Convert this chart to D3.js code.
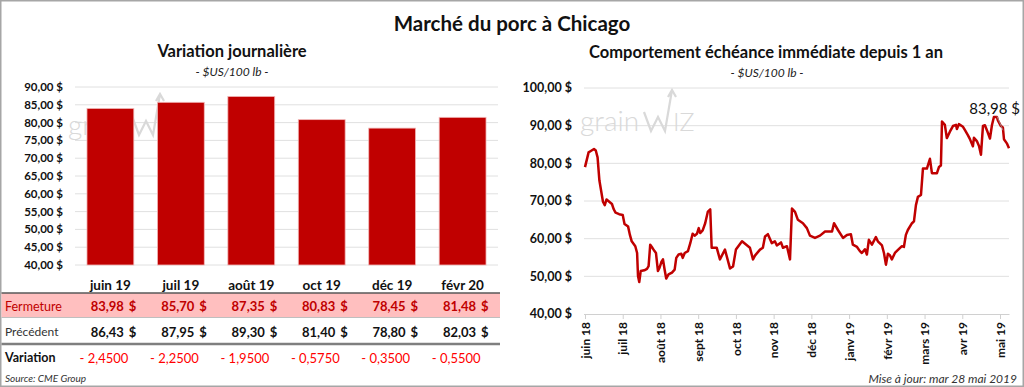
<!DOCTYPE html>
<html><head><meta charset="utf-8">
<script src="https://cdn.jsdelivr.net/npm/d3@7"></script>
<style>html,body{margin:0;padding:0;background:#fff;}svg{display:block;font-family:Lato,"Noto Sans",sans-serif;}</style>
</head><body>
<script>
// ---------- DATA ----------
const barCategories = ["juin 19","juil 19","août 19","oct 19","déc 19","févr 20"];
const closeValues   = [83.98, 85.70, 87.35, 80.83, 78.45, 81.48];
const prevValues    = [86.43, 87.95, 89.30, 81.40, 78.80, 82.03];
const changeValues  = [-2.4500, -2.2500, -1.9500, -0.5750, -0.3500, -0.5500];
const barTicks      = [40,45,50,55,60,65,70,75,80,85,90];

const lineTickLabels = ["juin 18","juil 18","août 18","sept 18","oct 18","nov 18","déc 18","janv 19","févr 19","mars 19","avr 19","mai 19"];
const lineTickDays   = [0,21,42,63,84,105,126,147,168,189,210,231];
const lineTicksY     = [40,50,60,70,80,90,100];
// trading-day index and settlement value (nearby contract)
const lineDays = [0,2,3,5,6,7,8,10,11,12,13,15,16,17,19,21,21.5,22,24,25,26,28,29,29.5,30.2,31,33,34.5,35.4,36.3,37.6,38.7,39.5,40.6,41.5,42.5,43.4,44.3,45.2,46.5,48.4,49.9,50.8,52.1,53.6,54.4,55.5,57.3,58.6,59.9,61,62.3,63.3,64.1,65.5,66.9,68.4,69.7,70.5,73.3,75.1,77.9,80.7,82.4,84,87.4,91.8,93.5,94.6,97.4,99,100.2,101.8,104,105.7,106.8,109.1,110.2,112.4,114.1,115.2,116.9,118.5,121.3,123.5,125.2,128,130.8,133.6,137.5,138.6,140.8,143.6,145.8,148,149.1,151.4,153,154.1,155.8,156.9,158,159.7,161.9,163,165.3,166.4,167.5,168.6,169.7,170.8,172.5,174.2,176.4,177.5,178.6,179.7,182,183.1,184.2,185.3,187,188.1,190.3,192,193.1,195.9,197,198.1,198.7,200.3,201.4,203.1,204.8,206.5,207,208.1,210.4,211.5,213.1,214.2,215.9,216.5,218.1,219.3,220.4,221.5,222.6,223.7,225.4,226.5,227.6,229.3,229.8,231.5,232.6,233.2,234.8,236];
const lineValues = [79.0,82.9,83.2,83.8,83.4,81.6,75.5,69.8,68.9,70.4,70.0,69.2,67.8,66.9,66.5,66.3,65.1,63.9,63.2,61.0,59.3,58.0,56.2,50.1,48.5,51.4,51.6,52.0,52.7,58.4,57.5,56.7,56.2,51.4,52.3,53.8,54.5,51.8,49.4,50.5,51.0,51.8,54.9,55.8,56.0,54.9,56.2,56.7,58.8,61.3,60.8,61.3,62.8,61.5,62.2,64.1,67.2,67.8,57.6,57.6,54.5,57.1,52.1,52.6,57.1,59.3,57.6,54.5,55.5,57.1,57.6,60.6,61.2,58.8,59.3,58.2,59.0,57.6,58.0,54.5,68.0,67.1,65.0,64.1,62.8,60.8,60.2,60.8,61.9,61.9,64.1,62.3,60.2,61.0,61.2,58.4,57.8,56.7,56.2,57.2,55.8,59.7,58.4,60.4,59.3,58.2,56.2,53.1,56.0,55.6,54.5,56.2,57.0,58.0,57.8,61.0,62.3,64.1,64.6,68.9,71.1,71.6,78.6,78.6,81.2,77.4,77.4,79.0,79.4,91.1,90.2,86.7,88.4,89.9,90.2,89.1,90.4,89.7,88.8,87.5,86.5,84.5,86.8,85.9,84.6,82.3,89.9,90.1,88.8,86.6,90.1,92.3,92.3,91.4,89.9,89.5,86.4,85.3,83.98];

// ---------- SETUP ----------
const W = 1024, H = 387;
const fr = d3.formatLocale({decimal: ",", thousands: " ", grouping: [3], currency: ["", " $"]});
const f2 = fr.format(",.2f"), f4 = fr.format(".4f");
const money = v => f2(v) + " $";

const svg = d3.select("body").append("svg").attr("width", W).attr("height", H);
svg.append("rect").attr("x",0.75).attr("y",0.75).attr("width",W-1.5).attr("height",H-1.5)
  .attr("fill","#fff").attr("stroke","#a6a6a6").attr("stroke-width",1.5);

svg.append("text").attr("x",512).attr("y",31).attr("text-anchor","middle")
  .attr("font-size",20.5).attr("font-weight",700).attr("fill","#111").text("Marché du porc à Chicago");

function watermark(g) {
  g.append("text").attr("x",0).attr("y",0).attr("font-size",28).attr("font-weight",300)
    .attr("fill","#d9d9d9").text("grain");
  g.append("path").attr("d","M64,-19 L71,0 L78,-14 L85,0 L92,-41 M88,-34 L92,-41 L96,-34")
    .attr("fill","none").attr("stroke","#d9d9d9").attr("stroke-width",2.2);
  g.append("text").attr("x",93).attr("y",0).attr("font-size",25).attr("font-weight",300)
    .attr("fill","#d9d9d9").text("IZ");
}

// ---------- LEFT: bar chart ----------
const bx = d3.scaleBand().domain(barCategories).range([75, 498]).paddingInner(0.335).paddingOuter(0.17);
const by = d3.scaleLinear().domain([40, 90]).range([265, 87]);

svg.append("text").attr("x",232).attr("y",57).attr("text-anchor","middle")
  .attr("font-size",16.5).attr("font-weight",700).attr("fill","#111").text("Variation journalière");
svg.append("text").attr("x",232).attr("y",76).attr("text-anchor","middle")
  .attr("font-size",12).attr("font-style","italic").attr("fill","#222").text("- $US/100 lb -");

const left = svg.append("g");
left.selectAll("line.grid").data(barTicks).join("line").attr("class","grid")
  .attr("x1",75).attr("x2",498).attr("y1",d=>by(d)).attr("y2",d=>by(d))
  .attr("stroke","#e0e0e0").attr("stroke-width",1);
watermark(left.append("g").attr("transform","translate(68,135)"));
left.selectAll("text.yl").data(barTicks).join("text").attr("class","yl")
  .attr("x",63).attr("y",d=>by(d)).attr("dy","0.35em").attr("text-anchor","end")
  .attr("font-size",11.5).attr("font-weight",700).attr("fill","#111").text(d=>money(d));
left.selectAll("rect.bar").data(closeValues).join("rect").attr("class","bar")
  .attr("x",(d,i)=>bx(barCategories[i])).attr("width",bx.bandwidth())
  .attr("y",d=>by(d)).attr("height",d=>by(40)-by(d))
  .attr("fill","#c00000").attr("stroke","#f2b8b8").attr("stroke-width",0.8);

// ---------- TABLE ----------
const tbl = svg.append("g");
const cx = c => bx(c) + bx.bandwidth()/2;
tbl.append("rect").attr("x",1.5).attr("y",293).attr("width",498.5).attr("height",24).attr("fill","#ffbfbf");
tbl.append("line").attr("x1",1.5).attr("x2",500).attr("y1",293).attr("y2",293).attr("stroke","#595959").attr("stroke-width",1.5);
tbl.append("line").attr("x1",1.5).attr("x2",500).attr("y1",317.5).attr("y2",317.5).attr("stroke","#bfbfbf").attr("stroke-width",1);
tbl.append("line").attr("x1",1.5).attr("x2",500).attr("y1",344).attr("y2",344).attr("stroke","#7f7f7f").attr("stroke-width",2.5);

tbl.selectAll("text.hd").data(barCategories).join("text").attr("class","hd")
  .attr("x",d=>cx(d)).attr("y",289.5).attr("text-anchor","middle")
  .attr("font-size",13.5).attr("font-weight",700).attr("fill","#111").text(d=>d);

tbl.append("text").attr("x",5).attr("y",310.5).attr("font-size",12.5).attr("fill","#c00000").text("Fermeture");
tbl.append("text").attr("x",5).attr("y",336).attr("font-size",12).attr("fill","#333").text("Précédent");
tbl.append("text").attr("x",5).attr("y",362).attr("font-size",12.5).attr("font-weight",700).attr("fill","#111").text("Variation");

function valueRow(vals, y, color) {
  tbl.selectAll(null).data(vals).join("text")
    .attr("x",(d,i)=>cx(barCategories[i])+13.5).attr("y",y).attr("text-anchor","end")
    .attr("font-size",13).attr("font-weight",700).attr("fill",color).text(d=>f2(d));
  tbl.selectAll(null).data(vals).join("text")
    .attr("x",(d,i)=>cx(barCategories[i])+26).attr("y",y).attr("text-anchor","end")
    .attr("font-size",13).attr("font-weight",700).attr("fill",color).text("$");
}
valueRow(closeValues, 311, "#c00000");
valueRow(prevValues, 337, "#111");
tbl.selectAll(null).data(changeValues).join("text")
  .attr("x",(d,i)=>cx(barCategories[i])+18).attr("y",363).attr("text-anchor","end")
  .attr("font-size",13).attr("fill","#ff0000").text(d=>(d<0?"- ":"")+f4(Math.abs(d)));

svg.append("text").attr("x",5).attr("y",382).attr("font-size",10).attr("font-style","italic")
  .attr("fill","#333").text("Source: CME Group");

// ---------- RIGHT: line chart ----------
const lx = d3.scaleLinear().domain([0, 236]).range([585, 1009]);
const ly = d3.scaleLinear().domain([40, 100]).range([314, 88]);

svg.append("text").attr("x",766).attr("y",58).attr("text-anchor","middle")
  .attr("font-size",16.5).attr("font-weight",700).attr("fill","#111").text("Comportement échéance immédiate depuis 1 an");
svg.append("text").attr("x",767).attr("y",77).attr("text-anchor","middle")
  .attr("font-size",12).attr("font-style","italic").attr("fill","#222").text("- $US/100 lb -");

const right = svg.append("g");
right.selectAll("line.grid").data(lineTicksY.filter(d=>d>40)).join("line").attr("class","grid")
  .attr("x1",584).attr("x2",1009).attr("y1",d=>ly(d)).attr("y2",d=>ly(d))
  .attr("stroke","#e0e0e0").attr("stroke-width",1);
watermark(right.append("g").attr("transform","translate(580,131)"));

right.selectAll("text.yl").data(lineTicksY).join("text").attr("class","yl")
  .attr("x",572).attr("y",d=>ly(d)).attr("dy","0.35em").attr("text-anchor","end")
  .attr("font-size",12.5).attr("font-weight",700).attr("fill","#111").text(d=>money(d));

const xAxis = d3.axisBottom(lx).tickValues(lineTickDays).tickSize(5).tickFormat((d,i)=>lineTickLabels[i]);
const xg = right.append("g").attr("transform","translate(0,314)").call(xAxis);
xg.select(".domain").attr("stroke","#d0d0d0").attr("d","M584,0.5H1009.5");
xg.selectAll(".tick line").attr("stroke","#d0d0d0");
xg.selectAll(".tick text").attr("font-family","Lato").attr("font-size",12).attr("font-weight",700)
  .attr("fill","#111").attr("text-anchor","end").attr("transform","rotate(-90)")
  .attr("x",-8).attr("y",0).attr("dy","0.35em");

const line = d3.line().x((d,i)=>lx(lineDays[i])).y(d=>ly(d)).curve(d3.curveLinear);
right.append("path").datum(lineValues).attr("d",line).attr("fill","none")
  .attr("stroke","#c00000").attr("stroke-width",2.5).attr("stroke-linejoin","round");

const last = lineValues.length - 1;
right.append("line").attr("x1",lx(lineDays[last])-12).attr("y1",ly(lineValues[last])-32)
  .attr("x2",lx(lineDays[last])-6).attr("y2",ly(lineValues[last])-18).attr("stroke","#9a9a9a").attr("stroke-width",0.8);
right.append("text").attr("x",1020).attr("y",ly(lineValues[last])-34).attr("text-anchor","end")
  .attr("font-size",15).attr("fill","#111").text(money(lineValues[last]));

svg.append("text").attr("x",1017).attr("y",383).attr("text-anchor","end").attr("font-size",12)
  .attr("font-style","italic").attr("fill","#333").text("Mise à jour: mar 28 mai 2019");
</script>
</body></html>
